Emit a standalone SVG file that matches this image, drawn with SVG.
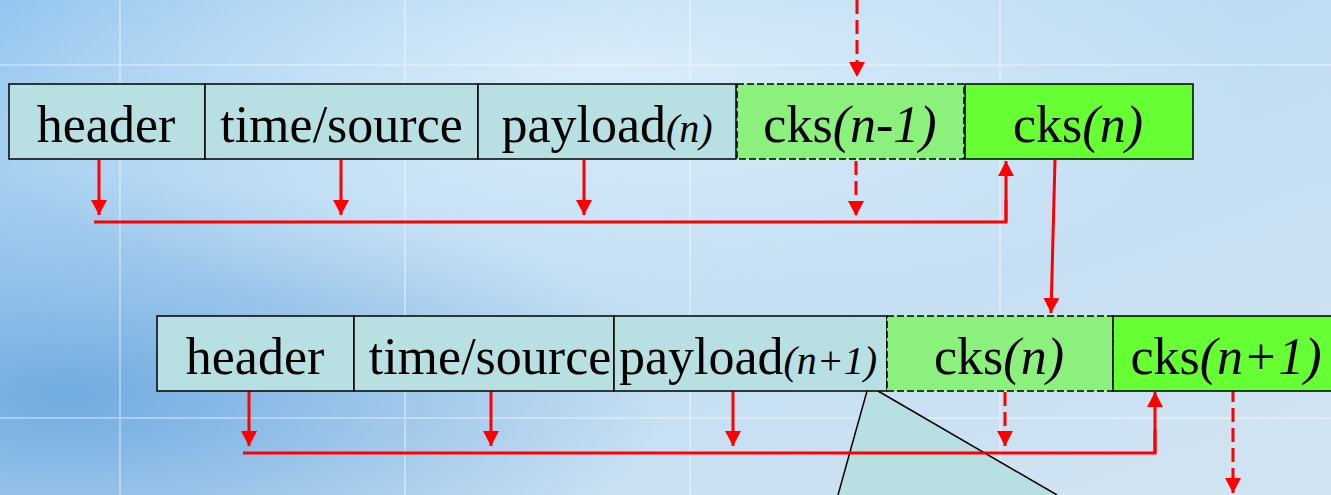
<svg xmlns="http://www.w3.org/2000/svg" width="1331" height="495" viewBox="0 0 1331 495">
<defs>
<linearGradient id="bg" x1="0" y1="0" x2="1" y2="1">
<stop offset="0" stop-color="#8fc3ee"/>
<stop offset="0.35" stop-color="#b9daf3"/>
<stop offset="0.65" stop-color="#c6dff2"/>
<stop offset="1" stop-color="#d2e4f2"/>
</linearGradient>
<radialGradient id="glow" cx="0.45" cy="0.15" r="0.5">
<stop offset="0" stop-color="#e4f2fb" stop-opacity="0.8"/>
<stop offset="1" stop-color="#e4f2fb" stop-opacity="0"/>
</radialGradient>
<radialGradient id="dark" cx="0.05" cy="0.8" r="0.45">
<stop offset="0" stop-color="#5f9fdc" stop-opacity="0.8"/>
<stop offset="1" stop-color="#5f9fdc" stop-opacity="0"/>
</radialGradient>
<marker id="ah" markerUnits="userSpaceOnUse" markerWidth="16" markerHeight="16" refX="15" refY="8" orient="auto">
<path d="M0,0 L15,8 L0,16 z" fill="#ff0000"/>
</marker>
</defs>
<style>
.box{stroke:#000;stroke-width:1.5}
.teal{fill:#b8e0e2}
.lg{fill:#8cf07c}
.bg2{fill:#66ff33}
.dash{stroke-dasharray:7 3}
.t{font-family:"Liberation Serif","Times New Roman",serif;font-size:52px;fill:#000;text-anchor:middle}
.i{font-style:italic}
.s{font-size:40px}
.r{stroke:#ff0000;stroke-width:3;fill:none}
.ra{stroke:#ff0000;stroke-width:3;fill:none;marker-end:url(#ah)}
.rd{stroke-dasharray:14 6}
</style>
<rect width="1331" height="495" fill="url(#bg)"/>
<rect width="1331" height="495" fill="url(#dark)"/>
<rect width="1331" height="495" fill="url(#glow)"/>
<g opacity="0.35" stroke="#ffffff" stroke-width="2">
<line x1="120" y1="0" x2="120" y2="495"/>
<line x1="405" y1="0" x2="405" y2="495"/>
<line x1="690" y1="0" x2="690" y2="495"/>
<line x1="1000" y1="0" x2="1000" y2="495"/>
<line x1="0" y1="65" x2="1331" y2="65"/>
<line x1="0" y1="418" x2="1331" y2="418"/>
</g>

<g id="trapezoid">
<path d="M867,391 L878,391 L1057,495 L838,495 Z" fill="#b8e0e2"/>
<line x1="867" y1="391" x2="838" y2="495" stroke="#000" stroke-width="1.5"/>
<line x1="878" y1="391" x2="1057" y2="495" stroke="#000" stroke-width="1.5"/>
</g>

<g id="connectors">
<line class="ra rd" x1="857" y1="0" x2="857" y2="77"/>
<line class="ra" x1="99" y1="160" x2="99" y2="215"/>
<line class="ra" x1="341" y1="160" x2="341" y2="215"/>
<line class="ra" x1="584" y1="160" x2="584" y2="215"/>
<line class="ra rd" x1="856" y1="161" x2="856" y2="216"/>
<polyline class="r" points="94,222 1006,222 1006,200"/>
<line class="ra" x1="1006" y1="222" x2="1006" y2="161"/>
<line class="ra" x1="1055" y1="160" x2="1051" y2="313"/>
<line class="ra" x1="249" y1="391" x2="249" y2="446"/>
<line class="ra" x1="491" y1="391" x2="491" y2="446"/>
<line class="ra" x1="733" y1="391" x2="733" y2="446"/>
<line class="ra rd" x1="1005" y1="392" x2="1005" y2="446"/>
<polyline class="r" points="243,453 1155,453 1155,430"/>
<line class="ra" x1="1155" y1="453" x2="1155" y2="392"/>
<line class="ra rd" x1="1233" y1="388" x2="1233" y2="493"/>
</g>

<g id="header1"><rect class="box teal" x="9" y="84" width="196" height="75"/><text class="t" x="106" y="142">header</text></g>
<g id="timesource1"><rect class="box teal" x="205" y="84" width="273" height="75"/><text class="t" x="341.5" y="142">time/source</text></g>
<g id="payload1"><rect class="box teal" x="478" y="84" width="258" height="75"/><text class="t" x="607" y="142">payload<tspan class="i s">(n)</tspan></text></g>
<g id="cksprev1"><rect class="box lg dash" x="737" y="84" width="227" height="75"/><text class="t" x="850" y="142">cks<tspan class="i">(n-1)</tspan></text></g>
<g id="cks1"><rect class="box bg2" x="965" y="84" width="228" height="75"/><text class="t" x="1078" y="142">cks<tspan class="i">(n)</tspan></text></g>

<g id="header2"><rect class="box teal" x="157" y="316" width="197" height="75"/><text class="t" x="255" y="374">header</text></g>
<g id="timesource2"><rect class="box teal" x="354" y="316" width="260" height="75"/><text class="t" x="490" y="374">time/source</text></g>
<g id="payload2"><rect class="box teal" x="614" y="316" width="273" height="75"/><text class="t" x="748" y="374">payload<tspan class="i s">(n+1)</tspan></text></g>
<g id="cksprev2"><rect class="box lg dash" x="887" y="316" width="226" height="75"/><text class="t" x="999" y="374">cks<tspan class="i">(n)</tspan></text></g>
<g id="cks2"><rect class="box bg2" x="1113" y="316" width="226" height="75"/><text class="t" x="1226" y="374">cks<tspan class="i">(n+1)</tspan></text></g>
</svg>
